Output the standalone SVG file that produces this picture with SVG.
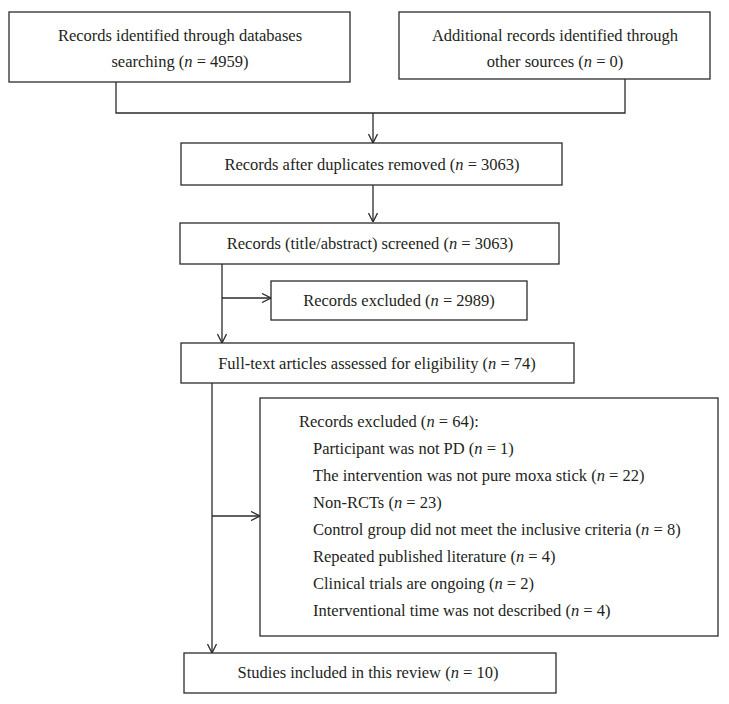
<svg xmlns="http://www.w3.org/2000/svg" width="729" height="704" viewBox="0 0 729 704">
<style>
.box{fill:#fff;stroke:#2b2b2b;stroke-width:1.3}
.t{font-family:"Liberation Serif","Times New Roman",serif;font-size:16.5px;fill:#231f20}
.c{text-anchor:middle}
.i{font-style:italic}
.ln{fill:none;stroke:#2b2b2b;stroke-width:1.3}
</style>
<defs>
<marker id="ah" viewBox="0 0 10 10" refX="10" refY="5" markerWidth="10" markerHeight="10" markerUnits="userSpaceOnUse" orient="auto">
<path d="M1,0.5 L10,5 L1,9.5" fill="none" stroke="#2b2b2b" stroke-width="1.3"/>
</marker>
</defs>
<rect width="729" height="704" fill="#fff"/>
<g id="connectors">
<path class="ln" d="M116,82 V113 H625 V79"/>
<path class="ln" d="M373,113 V143" marker-end="url(#ah)"/>
<path class="ln" d="M373,185 V222" marker-end="url(#ah)"/>
<path class="ln" d="M222,264 V343" marker-end="url(#ah)"/>
<path class="ln" d="M222,298 H271" marker-end="url(#ah)"/>
<path class="ln" d="M212,383 V653" marker-end="url(#ah)"/>
<path class="ln" d="M212,516 H260" marker-end="url(#ah)"/>
</g>
<g id="n1">
<rect class="box" x="9" y="12" width="341" height="70"/>
<text class="t c" x="180" y="41">Records identified through databases</text>
<text class="t c" x="180" y="67">searching (<tspan class="i">n</tspan> = 4959)</text>
</g>
<g id="n2">
<rect class="box" x="399" y="12" width="311" height="67"/>
<text class="t c" x="555" y="41">Additional records identified through</text>
<text class="t c" x="555" y="67">other sources (<tspan class="i">n</tspan> = 0)</text>
</g>
<g id="n3">
<rect class="box" x="181" y="143" width="381" height="42"/>
<text class="t c" x="372" y="170">Records after duplicates removed (<tspan class="i">n</tspan> = 3063)</text>
</g>
<g id="n4">
<rect class="box" x="180" y="223" width="379" height="41"/>
<text class="t c" x="370" y="249">Records (title/abstract) screened (<tspan class="i">n</tspan> = 3063)</text>
</g>
<g id="n5">
<rect class="box" x="271" y="281" width="256" height="39"/>
<text class="t c" x="399" y="306">Records excluded (<tspan class="i">n</tspan> = 2989)</text>
</g>
<g id="n6">
<rect class="box" x="181" y="343" width="393" height="40"/>
<text class="t c" x="377" y="369">Full-text articles assessed for eligibility (<tspan class="i">n</tspan> = 74)</text>
</g>
<g id="n7">
<rect class="box" x="260" y="398" width="458" height="238"/>
<text class="t" x="299" y="427">Records excluded (<tspan class="i">n</tspan> = 64):</text>
<text class="t" x="313" y="454">Participant was not PD (<tspan class="i">n</tspan> = 1)</text>
<text class="t" x="313" y="481">The intervention was not pure moxa stick (<tspan class="i">n</tspan> = 22)</text>
<text class="t" x="313" y="508">Non-RCTs (<tspan class="i">n</tspan> = 23)</text>
<text class="t" x="313" y="535">Control group did not meet the inclusive criteria (<tspan class="i">n</tspan> = 8)</text>
<text class="t" x="313" y="562">Repeated published literature (<tspan class="i">n</tspan> = 4)</text>
<text class="t" x="313" y="589">Clinical trials are ongoing (<tspan class="i">n</tspan> = 2)</text>
<text class="t" x="313" y="616">Interventional time was not described (<tspan class="i">n</tspan> = 4)</text>
</g>
<g id="n8">
<rect class="box" x="184" y="653" width="372" height="40"/>
<text class="t c" x="368" y="678">Studies included in this review (<tspan class="i">n</tspan> = 10)</text>
</g>
</svg>
